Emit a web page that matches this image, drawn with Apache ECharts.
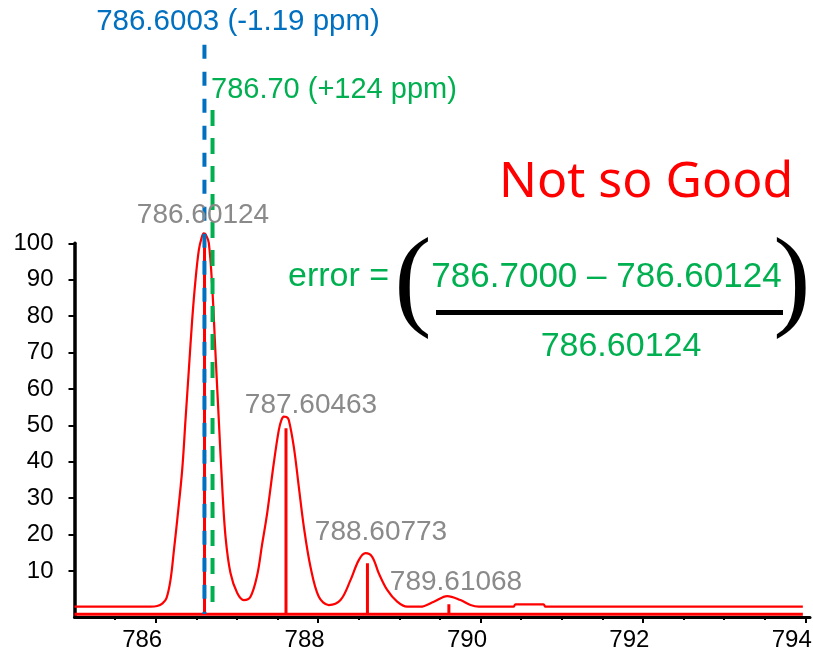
<!DOCTYPE html>
<html>
<head>
<meta charset="utf-8">
<script src="https://cdn.jsdelivr.net/npm/echarts@6/dist/echarts.min.js"></script>
<style>
  html, body { margin: 0; padding: 0; background: #ffffff; }
  #chart { width: 813px; height: 653px; }
</style>
</head>
<body>
<div id="chart"></div>
<script>
// Profile (continuum) trace of the isotope envelope: m/z and relative intensity
const profileMz = [
  785.00, 785.936, 786.018, 786.084, 786.133, 786.182, 786.225, 786.265, 786.326, 786.367,
  786.408, 786.449, 786.490, 786.531, 786.564, 786.592, 786.619, 786.654, 786.696, 786.736,
  786.777, 786.819, 786.860, 786.921, 787.004, 787.085, 787.167, 787.250, 787.309, 787.373,
  787.454, 787.516, 787.549, 787.578, 787.611, 787.639, 787.701, 787.762, 787.824, 787.906,
  788.009, 788.132, 788.276, 788.399, 788.501, 788.584, 788.666, 788.747, 788.851, 788.974,
  789.097, 789.261, 789.425, 789.590, 789.754, 789.877, 789.979, 790.406, 790.431, 790.776,
  790.800, 793.97
];
const profileIntensity = [
  0.2, 0.2, 0.38, 1.13, 2.58, 7.5, 15.8, 24.0, 37.7, 51.5,
  65.2, 78.9, 89.9, 98.1, 101.4, 102.7, 102.3, 100.1, 88.1, 69.9,
  51.5, 33.2, 19.4, 9.45, 3.95, 2.03, 2.94, 8.9, 17.1, 25.9,
  39.6, 48.7, 51.5, 52.4, 52.3, 51.5, 44.1, 33.2, 22.2, 11.2,
  2.94, 0.66, 2.03, 7.5, 13.0, 14.9, 13.9, 9.4, 4.8, 1.57,
  0.2, 0.2, 1.57, 3.13, 2.03, 0.66, 0.2, 0.2, 0.85, 0.85,
  0.2, 0.2
];

// Centroid (stick) trace: theoretical isotope masses and intensities
const stickMz = [786.60124, 787.60463, 788.60773, 789.61068, 790.614];
const stickIntensity = [100, 49.2, 12.1, 0.9, -1.4];
const stickBaseline = -1.9;
const scanStart = 785.0;
const scanEnd = 793.97;

// Measured masses marked with dashed lines
const measuredMz = 786.6003;
const measuredPpm = '-1.19';
const measuredTop = 154.5;
const wrongMz = 786.70;
const wrongPpm = '+124';
const wrongTop = 136.6;
const markerBottom = -1.8;

// Axis ticks
const xMajorTicks = [786, 788, 790, 792, 794];
const xMinorTicks = [785.5, 786, 786.5, 787, 787.5, 788, 788.5, 789, 789.5, 790,
                     790.5, 791, 791.5, 792, 792.5, 793, 793.5, 794];
const yTicks = [10, 20, 30, 40, 50, 60, 70, 80, 90, 100];

// Build series data from the arrays above
const profileData = profileMz.map((m, i) => [m, profileIntensity[i]]);
const stickData = [[scanStart, stickBaseline]];
stickMz.forEach((m, i) => {
  stickData.push([m, stickBaseline], [m, stickIntensity[i]], [m, stickBaseline]);
});
stickData.push([scanEnd, stickBaseline]);

const RED = '#ff0000';
const BLUE = '#0070c0';
const GREEN = '#00b050';
const GREY = '#8a8a8a';
const SANS = '"Liberation Sans", Arial, Helvetica, sans-serif';
const SERIF = '"Liberation Serif", "Times New Roman", serif';

// Peak annotations: text comes from the stick masses
const peakLabelPos = [[203, 215], [311, 405], [381, 532], [456, 582]];
const peakLabels = peakLabelPos.map((p, i) => ({
  type: 'text', x: p[0], y: p[1], z: 10,
  style: { text: stickMz[i].toFixed(5), fill: GREY, font: '28px ' + SANS, align: 'center', verticalAlign: 'middle' }
}));

const chart = echarts.init(document.getElementById('chart'), null, { renderer: 'canvas' });
chart.setOption({
  animation: false,
  backgroundColor: '#ffffff',
  grid: { left: 74.5, right: 3, top: 243.3, bottom: 36.1, containLabel: false, outerBoundsMode: 'none' },
  xAxis: [{
    type: 'value', min: 785, max: 794.058,
    axisLine: { show: true, onZero: false, lineStyle: { color: '#000', width: 3 } },
    axisTick: { show: true, customValues: xMajorTicks, length: 6, lineStyle: { color: '#000', width: 2 } },
    axisLabel: {
      customValues: xMajorTicks, margin: 11, fontSize: 24, fontFamily: SANS, color: '#000',
      formatter: v => '{t|' + v + '}',
      rich: { t: { fontSize: 24, fontFamily: SANS, color: '#000', padding: [0, 27, 0, 0] } }
    },
    splitLine: { show: false }
  }, {
    type: 'value', min: 785, max: 794.058, position: 'bottom',
    axisLine: { show: false, onZero: false },
    axisTick: { show: true, customValues: xMinorTicks, length: 3, lineStyle: { color: '#000', width: 2 } },
    axisLabel: { show: false },
    splitLine: { show: false }
  }],
  yAxis: {
    type: 'value', min: -2.6, max: 100,
    axisLine: { show: true, onZero: false, lineStyle: { color: '#000', width: 3.5 } },
    axisTick: { show: true, customValues: yTicks, length: 6, lineStyle: { color: '#000', width: 2 } },
    axisLabel: { customValues: yTicks, margin: 21, fontSize: 24, fontFamily: SANS, color: '#000' },
    splitLine: { show: false }
  },
  series: [
    {
      name: 'profile', type: 'line', data: profileData, clip: false,
      symbol: 'none', smooth: 0.35, z: 2,
      lineStyle: { color: RED, width: 2.2 }
    },
    {
      name: 'centroid', type: 'line', data: stickData, clip: false,
      symbol: 'none', z: 3,
      lineStyle: { color: RED, width: 3 }
    },
    {
      name: 'measured', type: 'line', data: [[measuredMz, measuredTop], [measuredMz, markerBottom]],
      clip: false, symbol: 'none', z: 5,
      lineStyle: { color: BLUE, width: 4, type: [14, 13] }
    },
    {
      name: 'wrong', type: 'line', data: [[wrongMz, wrongTop], [wrongMz, markerBottom]],
      clip: false, symbol: 'none', z: 5,
      lineStyle: { color: GREEN, width: 4, type: [16, 12] }
    }
  ],
  graphic: [
    { type: 'text', x: 238, y: 22, z: 10,
      style: { text: measuredMz.toFixed(4) + ' (' + measuredPpm + ' ppm)', fill: BLUE, font: '29.5px ' + SANS, align: 'center', verticalAlign: 'middle' } },
    { type: 'text', x: 211, y: 90, z: 10,
      style: { text: wrongMz.toFixed(2) + ' (' + wrongPpm + ' ppm)', fill: GREEN, font: '29px ' + SANS, align: 'left', verticalAlign: 'middle' } },
    { type: 'text', x: 499, y: 183, z: 10,
      style: { text: 'Not so Good', fill: RED, font: '50px "Noto Sans", sans-serif', align: 'left', verticalAlign: 'middle' } },
    { type: 'text', x: 288, y: 277, z: 10,
      style: { text: 'error =', fill: GREEN, font: '34px ' + SANS, align: 'left', verticalAlign: 'middle' } },
    { type: 'text', x: 413, y: 286, z: 10,
      style: { text: '(', fill: '#000', font: '112px ' + SERIF, align: 'center', verticalAlign: 'middle' } },
    { type: 'text', x: 792, y: 286, z: 10,
      style: { text: ')', fill: '#000', font: '112px ' + SERIF, align: 'center', verticalAlign: 'middle' } },
    { type: 'text', x: 606.5, y: 277, z: 10,
      style: { text: wrongMz.toFixed(4) + ' \u2013 ' + stickMz[0].toFixed(5), fill: GREEN, font: '35px ' + SANS, align: 'center', verticalAlign: 'middle' } },
    { type: 'rect', z: 10, shape: { x: 436, y: 310, width: 347, height: 5 }, style: { fill: '#000' } },
    { type: 'text', x: 621, y: 347, z: 10,
      style: { text: stickMz[0].toFixed(5), fill: GREEN, font: '34px ' + SANS, align: 'center', verticalAlign: 'middle' } }
  ].concat(peakLabels)
});
</script>
</body>
</html>
